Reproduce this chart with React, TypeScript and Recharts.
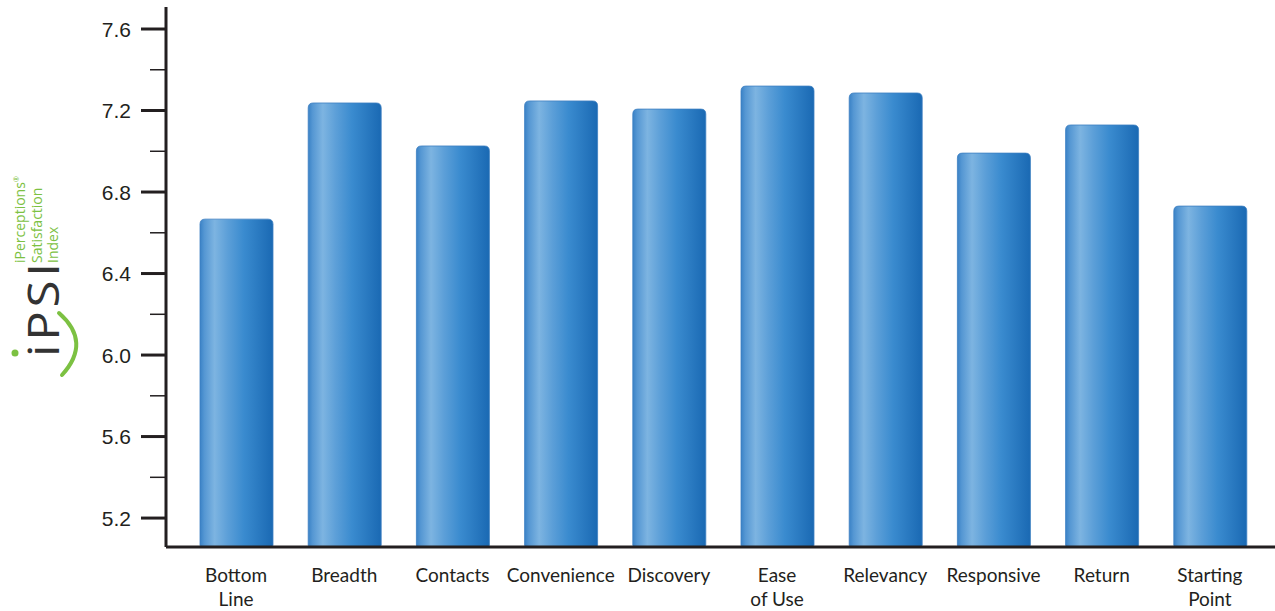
import React from "react";
import { BarChart, Bar, XAxis, YAxis } from "recharts";

const categories = [
  "Bottom\nLine",
  "Breadth",
  "Contacts",
  "Convenience",
  "Discovery",
  "Ease\nof Use",
  "Relevancy",
  "Responsive",
  "Return",
  "Starting\nPoint",
];
const scores = [6.667, 7.237, 7.026, 7.247, 7.207, 7.32, 7.286, 6.991, 7.129, 6.731];
const yTicks = [5.2, 5.4, 5.6, 5.8, 6.0, 6.2, 6.4, 6.6, 6.8, 7.0, 7.2, 7.4, 7.6];
const majorTicks = [5.2, 5.6, 6.0, 6.4, 6.8, 7.2, 7.6];
const yDomain = [5.058, 7.708];

const data = categories.map((c, i) => ({ name: c, value: scores[i] }));

const AXIS = "#231f20";
const GREEN = "#7cc142";

const BarShape = (props: any) => {
  const { x, y, width, height, index } = props;
  if (height <= 0) return null;
  const r = 5;
  const rb = 2;
  const id = `barGrad${index}`;
  const d = `M${x},${y + r} Q${x},${y} ${x + r},${y} L${x + width - r},${y} Q${x + width},${y} ${x + width},${y + r} L${x + width},${y + height - rb} Q${x + width},${y + height} ${x + width - rb},${y + height} L${x + rb},${y + height} Q${x},${y + height} ${x},${y + height - rb} Z`;
  return (
    <g>
      <defs>
        <linearGradient id={id} x1="0" y1="0" x2="1" y2="0">
          <stop offset="0%" stopColor="#3a82c6" />
          <stop offset="6%" stopColor="#5597d3" />
          <stop offset="20%" stopColor="#7db4e1" />
          <stop offset="38%" stopColor="#5c9fd8" />
          <stop offset="60%" stopColor="#3a8bcf" />
          <stop offset="100%" stopColor="#1a69b3" />
        </linearGradient>
      </defs>
      <path d={d} fill={`url(#${id})`} stroke="#3c7fc2" strokeWidth={0.8} />
    </g>
  );
};

const YTick = (props: any) => {
  const { y, payload } = props;
  const v = payload.value;
  const major = majorTicks.some((m) => Math.abs(m - v) < 1e-6);
  const axisX = 166;
  return (
    <g>
      <line
        x1={axisX - (major ? 25 : 16)}
        x2={axisX}
        y1={y}
        y2={y}
        stroke={AXIS}
        strokeWidth={major ? 3 : 1.5}
      />
      {major && (
        <text
          x={131}
          y={y}
          dy="0.36em"
          textAnchor="end"
          fontFamily="'Liberation Sans', Arial, sans-serif"
          fontSize={21}
          fill={AXIS}
        >
          {v.toFixed(1)}
        </text>
      )}
    </g>
  );
};

const XTick = (props: any) => {
  const { x, payload } = props;
  const lines = String(payload.value).split("\n");
  return (
    <text
      x={x}
      y={582}
      textAnchor="middle"
      fontFamily="Lato, 'Open Sans', sans-serif"
      fontSize={19}
      fill={AXIS}
    >
      {lines.map((l, i) => (
        <tspan key={i} x={x} dy={i === 0 ? 0 : 24}>
          {l}
        </tspan>
      ))}
    </text>
  );
};

const Logo = () => (
  <svg
    width={100}
    height={611}
    style={{ position: "absolute", left: 0, top: 0, pointerEvents: "none" }}
  >
    <text
      transform="translate(59,357) rotate(-90) scale(1.12,1)"
      fontFamily="'Open Sans', sans-serif"
      fontSize={44}
      fill="#333333"
      textLength={84}
      lengthAdjust="spacing"
    >
      iPSI
    </text>
    <circle cx={15} cy={353} r={3.5} fill={GREEN} />
    <path
      d="M59,313 Q92,342 62,375"
      fill="none"
      stroke={GREEN}
      strokeWidth={4}
      strokeLinecap="round"
    />
    <g fontFamily="'Open Sans', sans-serif" fontSize={14} fill={GREEN}>
      <text transform="translate(25,263) rotate(-90)">
        iPerceptions<tspan fontSize={7} dy={-6}>®</tspan>
      </text>
      <text transform="translate(42,263) rotate(-90)">Satisfaction</text>
      <text transform="translate(58,263) rotate(-90)">Index</text>
    </g>
  </svg>
);

export default function App() {
  return (
    <div style={{ position: "absolute", left: 0, top: 0, width: 1275, height: 611, background: "#fff" }}>
      <BarChart
        width={1275}
        height={611}
        data={data}
        margin={{ top: 7, right: 0, bottom: 0, left: 0 }}
      >
        <XAxis
          dataKey="name"
          height={64}
          padding={{ left: 16, right: 11 }}
          axisLine={{ stroke: AXIS, strokeWidth: 3 }}
          tickLine={false}
          tick={<XTick />}
          interval={0}
        />
        <YAxis
          type="number"
          domain={yDomain}
          ticks={yTicks}
          width={166}
          allowDataOverflow
          axisLine={{ stroke: AXIS, strokeWidth: 3 }}
          tickLine={false}
          tick={<YTick />}
          interval={0}
        />
        <Bar
          dataKey="value"
          barSize={73}
          isAnimationActive={false}
          shape={(p: any) => <BarShape {...p} />}
        />
      </BarChart>
      <Logo />
    </div>
  );
}
